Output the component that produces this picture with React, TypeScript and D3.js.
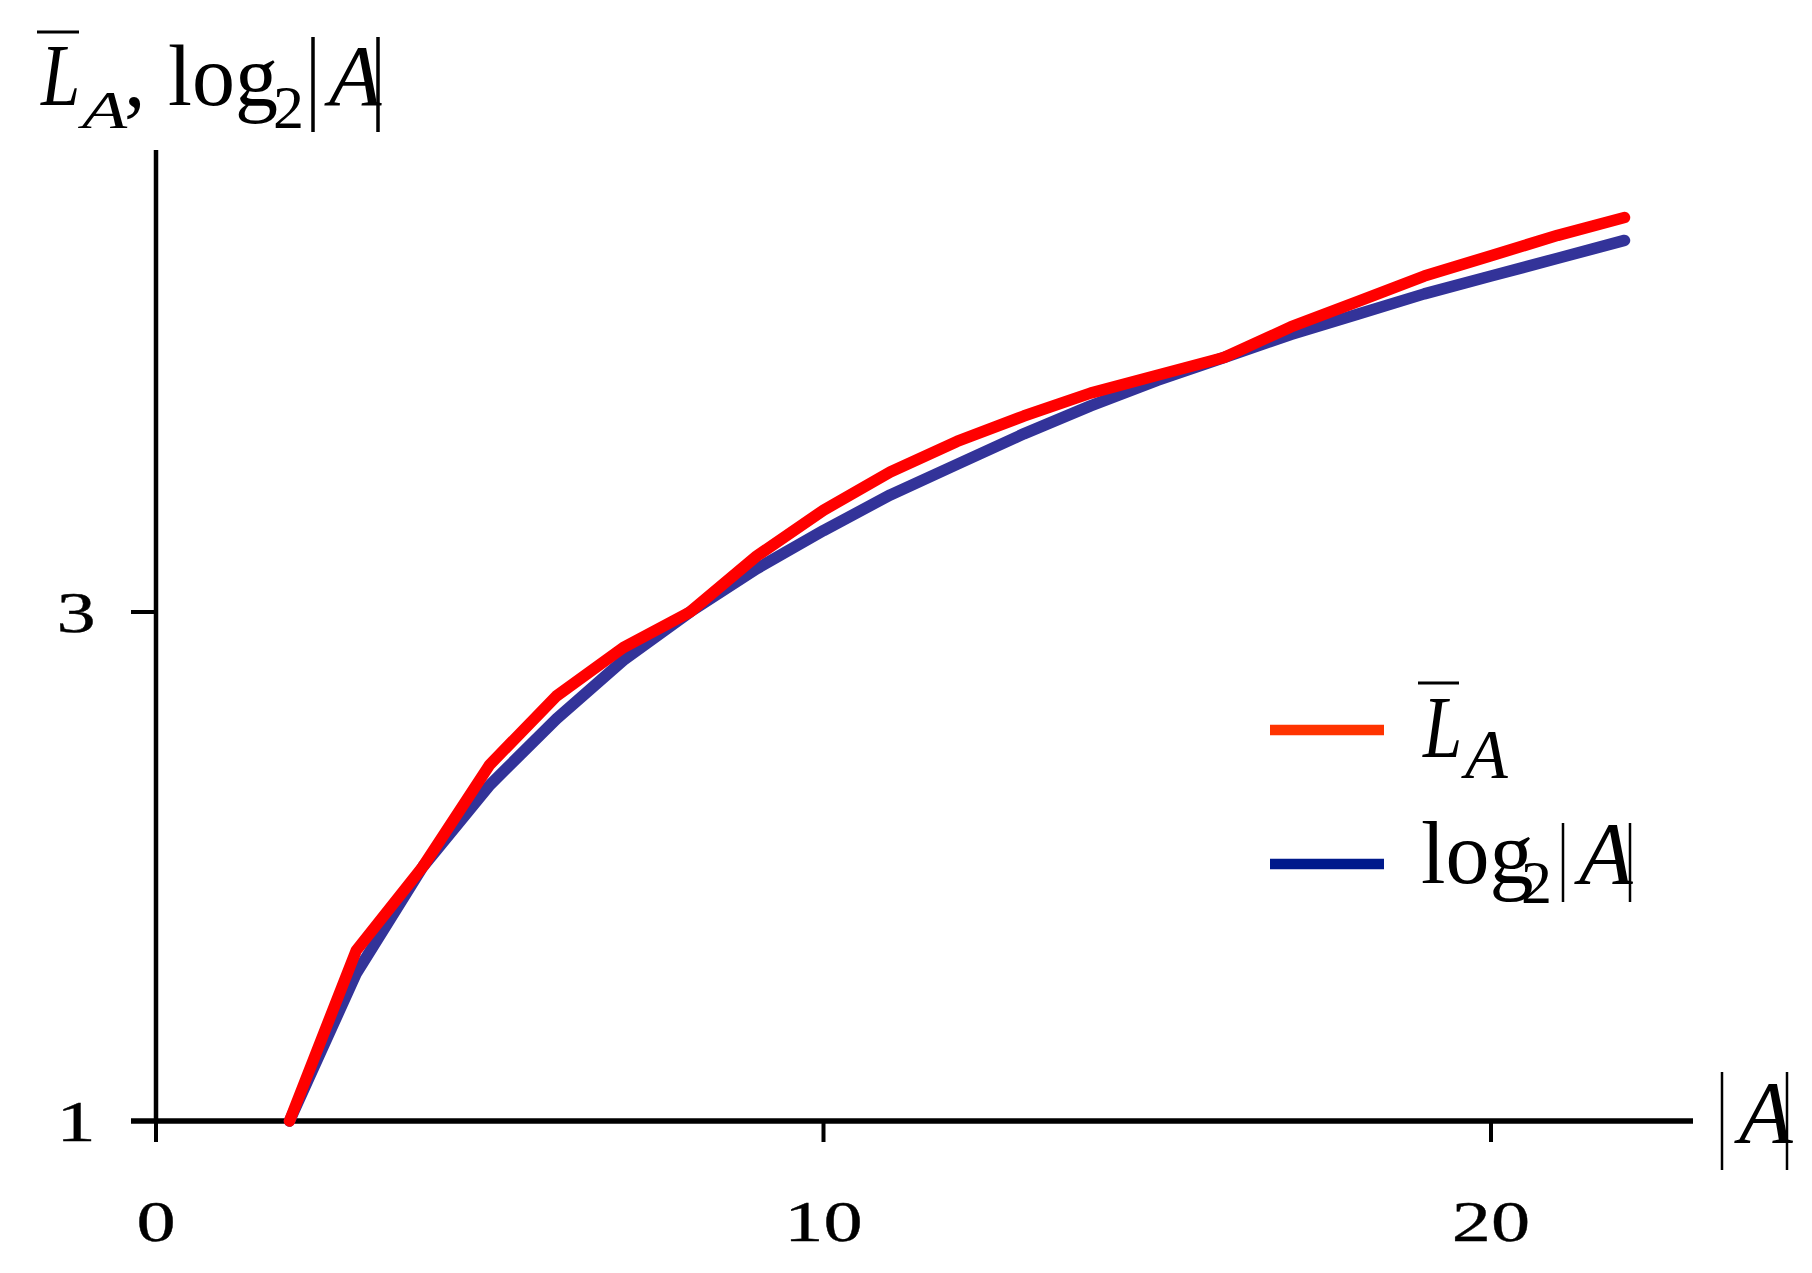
import React from "react";
import * as d3 from "d3";

const sizes = [2, 3, 4, 5, 6, 7, 8, 9, 10, 11, 12, 13, 14, 15, 16, 17, 18, 19, 20, 21, 22];
const avgLength = [1, 1.67, 2, 2.4, 2.67, 2.86, 3, 3.22, 3.4, 3.55, 3.67, 3.77, 3.86, 3.93, 4, 4.12, 4.22, 4.32, 4.4, 4.48, 4.55];
const log2Size = [1, 1.58, 2, 2.32, 2.58, 2.81, 3, 3.17, 3.32, 3.46, 3.58, 3.7, 3.81, 3.91, 4, 4.09, 4.17, 4.25, 4.32, 4.39, 4.46];
const xTicks = [0, 10, 20];
const yTicks = [1, 3];

const W = 1812;
const H = 1273;
const serif = "'Liberation Serif', 'Times New Roman', serif";

export default function App() {
  const x = d3.scaleLinear().domain([0, 20]).range([156, 1491]);
  const y = d3.scaleLinear().domain([1, 3]).range([1121, 612]);
  const line = d3
    .line<number>()
    .x((_, i) => x(sizes[i]))
    .y((d) => y(d));

  const axisBottom = y(1);
  const axisLeft = x(0);

  return (
    <svg
      width={W}
      height={H}
      style={{ position: "absolute", left: 0, top: 0, background: "#fff" }}
      fontFamily={serif}
    >
      <rect x={0} y={0} width={W} height={H} fill="#fff" />
      {/* axes */}
      <line x1={axisLeft} x2={axisLeft} y1={150} y2={axisBottom} stroke="#000" strokeWidth={4.5} />
      <line x1={131} x2={1693} y1={axisBottom} y2={axisBottom} stroke="#000" strokeWidth={5.5} />
      {xTicks.map((t) => (
        <g key={"xt" + t}>
          <line x1={x(t)} x2={x(t)} y1={axisBottom} y2={axisBottom + 21} stroke="#000" strokeWidth={4} />
          <text
            transform={`translate(${x(t)},1241) scale(1.35,1)`}
            textAnchor="middle"
            fontSize={58}
            fill="#000"
            stroke="#000"
            strokeWidth={0.35}
          >
            {t}
          </text>
        </g>
      ))}
      {yTicks.map((t) => (
        <g key={"yt" + t}>
          <line x1={131} x2={axisLeft} y1={y(t)} y2={y(t)} stroke="#000" strokeWidth={4} />
          <text
            transform={`translate(76,${y(t) + 20}) scale(1.35,1)`}
            textAnchor="middle"
            fontSize={58}
            fill="#000"
            stroke="#000"
            strokeWidth={0.35}
          >
            {t}
          </text>
        </g>
      ))}

      {/* series */}
      <path
        d={line(log2Size) || ""}
        fill="none"
        stroke="#333399"
        strokeWidth={11.5}
        strokeLinejoin="round"
        strokeLinecap="round"
      />
      <path
        d={line(avgLength) || ""}
        fill="none"
        stroke="#ff0000"
        strokeWidth={11.5}
        strokeLinejoin="round"
        strokeLinecap="round"
      />

      {/* y-axis title: L̄_A, log2|A| */}
      <g fill="#000">
        <line x1={37} x2={79} y1={32} y2={32} stroke="#000" strokeWidth={3} />
        <text transform="translate(41,105) scale(0.8,1)" fontSize={88} fontStyle="italic">L</text>
        <text transform="translate(82,128) scale(1,0.7)" fontSize={74} fontStyle="italic">A</text>
        <text x={124} y={106} fontSize={86}>,</text>
        <text x={168} y={105} fontSize={86}>log</text>
        <text x={273} y={128} fontSize={62}>2</text>
        <line x1={313} x2={313} y1={37} y2={132} stroke="#000" strokeWidth={3.5} />
        <text x={329} y={105} fontSize={86} fontStyle="italic">A</text>
        <line x1={378} x2={378} y1={37} y2={132} stroke="#000" strokeWidth={3.5} />
      </g>

      {/* x-axis title |A| */}
      <g fill="#000">
        <line x1={1722} x2={1722} y1={1072} y2={1170} stroke="#000" strokeWidth={2.5} />
        <text x={1739} y={1142} fontSize={88} fontStyle="italic">A</text>
        <line x1={1787} x2={1787} y1={1072} y2={1170} stroke="#000" strokeWidth={2.5} />
      </g>

      {/* legend */}
      <g>
        <line x1={1270} x2={1384} y1={730} y2={730} stroke="#ff3300" strokeWidth={10.5} />
        <line x1={1418} x2={1459} y1={683} y2={683} stroke="#000" strokeWidth={3} />
        <text transform="translate(1423,757) scale(0.8,1)" fontSize={88} fontStyle="italic">L</text>
        <text x={1465} y={778} fontSize={70} fontStyle="italic">A</text>

        <line x1={1270} x2={1384} y1={864} y2={864} stroke="#001a8c" strokeWidth={10.5} />
        <text x={1421} y={883} fontSize={88}>log</text>
        <text x={1521} y={903} fontSize={62}>2</text>
        <line x1={1563} x2={1563} y1={823} y2={902} stroke="#000" strokeWidth={2.5} />
        <text x={1579} y={883} fontSize={88} fontStyle="italic">A</text>
        <line x1={1630} x2={1630} y1={823} y2={902} stroke="#000" strokeWidth={2.5} />
      </g>
    </svg>
  );
}
